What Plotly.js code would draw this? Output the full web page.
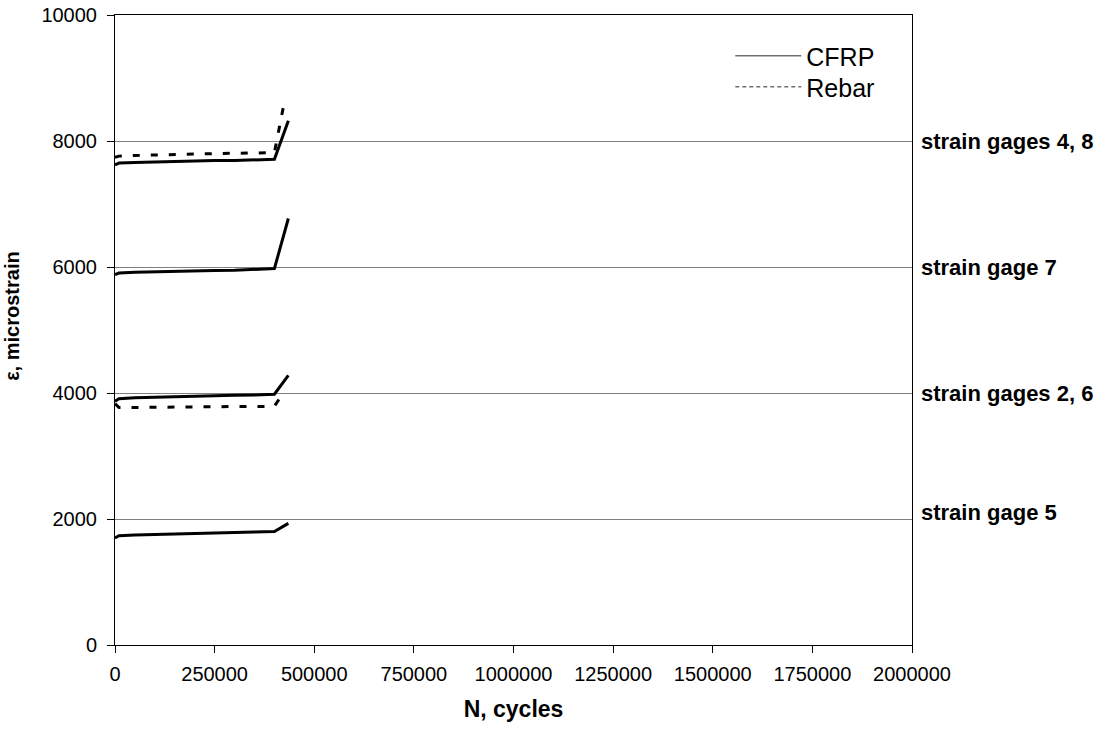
<!DOCTYPE html>
<html>
<head>
<meta charset="utf-8">
<script src="https://cdn.plot.ly/plotly-3.0.1.min.js"></script>
<style>html,body{margin:0;padding:0;background:#fff;}#chart{width:1111px;height:730px;}</style>
</head>
<body>
<div id="chart"></div>
<script>
// Cycles (N) for each series
const nCFRP = [0, 10000, 50000, 100000, 150000, 200000, 250000, 300000, 350000, 400000, 435000];
const nRebar48 = [0, 10000, 50000, 100000, 150000, 200000, 250000, 300000, 350000, 400000, 425000];
const nRebar26 = [0, 10000, 50000, 100000, 150000, 200000, 250000, 300000, 350000, 400000, 418000];

// Strain (microstrain)
const cfrp48 = [7620, 7650, 7660, 7670, 7675, 7680, 7690, 7690, 7700, 7710, 8320];
const rebar48 = [7740, 7760, 7770, 7780, 7790, 7795, 7800, 7805, 7810, 7815, 8620];
const cfrp7 = [5880, 5905, 5915, 5925, 5930, 5940, 5945, 5950, 5960, 5975, 6770];
const cfrp26 = [3870, 3910, 3925, 3935, 3945, 3955, 3960, 3965, 3970, 3980, 4280];
const rebar26 = [3830, 3770, 3770, 3775, 3780, 3780, 3780, 3785, 3785, 3790, 3960];
const cfrp5 = [1700, 1735, 1745, 1755, 1765, 1770, 1780, 1790, 1795, 1800, 1930];

const legendNames = ["CFRP", "Rebar"];
const gageLabels = ["strain gages 4, 8", "strain gage 7", "strain gages 2, 6", "strain gage 5"];
const gageLabelY = [8000, 6000, 4000, 2100];

const xTickVals = [0, 250000, 500000, 750000, 1000000, 1250000, 1500000, 1750000, 2000000];

const FONT = "Arial, 'Liberation Sans', sans-serif";
const solid = {color: "#000", width: 3};
const dashed = {color: "#000", width: 3, dash: "7px,11px"};

const traces = [
  {x: nCFRP, y: cfrp48, mode: "lines", line: solid, showlegend: false, hoverinfo: "skip"},
  {x: nRebar48, y: rebar48, mode: "lines", line: dashed, showlegend: false, hoverinfo: "skip"},
  {x: nCFRP, y: cfrp7, mode: "lines", line: solid, showlegend: false, hoverinfo: "skip"},
  {x: nCFRP, y: cfrp26, mode: "lines", line: solid, showlegend: false, hoverinfo: "skip"},
  {x: nRebar26, y: rebar26, mode: "lines", line: dashed, showlegend: false, hoverinfo: "skip"},
  {x: nCFRP, y: cfrp5, mode: "lines", line: solid, showlegend: false, hoverinfo: "skip"},
  // legend entries
  {x: [null], y: [null], mode: "lines", name: legendNames[0], legend: "legend",
   line: {color: "#707070", width: 1.5}},
  {x: [null], y: [null], mode: "lines", name: legendNames[1], legend: "legend2",
   line: {color: "#707070", width: 1.5, dash: "4px,3px"}}
];

const annotations = gageLabels.map((t, i) => ({
  xref: "paper", yref: "y", x: 1.0088, y: gageLabelY[i],
  xanchor: "left", yanchor: "middle", showarrow: false,
  text: "<b>" + t + "</b>",
  font: {family: FONT, size: 22, color: "#000"}
}));

const legendBase = {
  xanchor: "left", yanchor: "middle",
  bgcolor: "rgba(0,0,0,0)", borderwidth: 0,
  font: {family: FONT, size: 25, color: "#000"},
  tracegroupgap: 0, itemwidth: 66
};

const layout = {
  width: 1111, height: 730,
  margin: {l: 115, r: 199, t: 15, b: 85, pad: 0},
  paper_bgcolor: "#fff", plot_bgcolor: "#fff",
  font: {family: FONT, size: 20, color: "#000"},
  showlegend: true,
  legend: Object.assign({}, legendBase, {x: 0.772, y: 0.9349}),
  legend2: Object.assign({}, legendBase, {x: 0.772, y: 0.8857}),
  xaxis: {
    range: [0, 2000000], tickvals: xTickVals, ticktext: xTickVals.map(String),
    showgrid: false, zeroline: false,
    showline: true, linecolor: "#000", linewidth: 1, mirror: true,
    ticks: "outside", ticklen: 7, tickcolor: "#000", tickwidth: 1,
    ticklabelstandoff: 4,
    tickfont: {family: FONT, size: 20, color: "#000"},
    title: {text: "<b>N, cycles</b>", font: {family: FONT, size: 23, color: "#000"}, standoff: 16}
  },
  yaxis: {
    range: [0, 10000], dtick: 2000, tick0: 0, tickformat: "d",
    showgrid: true, gridcolor: "#808080", gridwidth: 1, zeroline: false,
    showline: true, linecolor: "#000", linewidth: 1, mirror: true,
    ticks: "outside", ticklen: 7, tickcolor: "#000", tickwidth: 1,
    ticklabelstandoff: 6,
    tickfont: {family: FONT, size: 20, color: "#000"},
    title: {text: "<b>\u00a0\u00a0\u00a0\u00a0\u00a0ε, microstrain</b>", font: {family: FONT, size: 20, color: "#000", weight: "bold"}, standoff: 16}
  },
  annotations: annotations
};

Plotly.newPlot("chart", traces, layout, {staticPlot: true, displayModeBar: false});
</script>
</body>
</html>
